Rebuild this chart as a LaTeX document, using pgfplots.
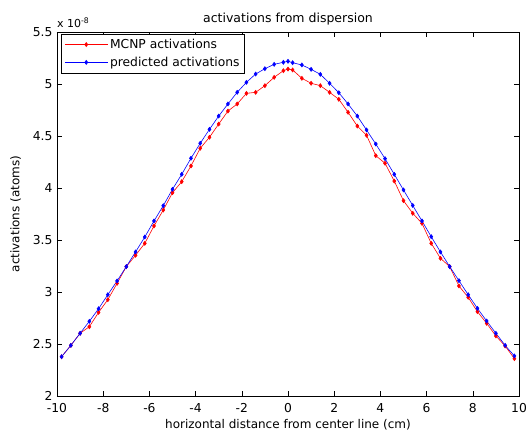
\documentclass[border=0pt]{standalone}
\usepackage{pgfplots}
\pgfplotsset{compat=1.18}
\usepackage{fontspec}
\setmainfont{DejaVu Sans}
\begin{document}
\begin{tikzpicture}
\begin{axis}[
  scale only axis,
  width=462pt, height=364pt,
  xmin=-10, xmax=10, ymin=2, ymax=5.5,
  xtick={-10,-8,...,10},
  ytick={2,2.5,...,5.5},
  yticklabels={2,2.5,3,3.5,4,4.5,5,5.5},
  /pgf/number format/assume math mode=true,
  tick align=inside,
  major tick length=5pt,
  axis line style={line width=0.8pt},
  every tick/.style={black, line width=0.6pt},
  tick label style={font=\fontsize{12.3}{14}\selectfont},
  xticklabel style={yshift=-4pt},
  yticklabel style={xshift=-1pt},
  xlabel={horizontal distance from center line (cm)},
  ylabel={activations (atoms)},
  label style={font=\fontsize{12}{14}\selectfont},
  xlabel style={yshift=0pt},
  ylabel style={yshift=5pt},
  title={activations from dispersion},
  title style={font=\fontsize{12.5}{14}\selectfont, yshift=-3pt},
  legend style={at={(0.009,0.995)}, anchor=north west, draw=black, line width=0.6pt,
    font=\fontsize{12.3}{14}\selectfont, inner xsep=3pt, inner ysep=3pt, row sep=3pt},
  legend cell align=left,
  legend image code/.code={\draw[#1] (0pt,0pt) -- (43pt,0pt); \draw[#1, only marks] plot coordinates {(21.5pt,0pt)};},
]
\addplot[red, line width=0.6pt, mark=diamond*, mark size=2pt, mark options={solid}] coordinates {
(-9.8,2.378) (-9.4,2.487) (-9.0,2.603) (-8.6,2.666) (-8.2,2.804) (-7.8,2.926) (-7.4,3.083) (-7.0,3.244)
(-6.6,3.353) (-6.2,3.468) (-5.8,3.635) (-5.4,3.788) (-5.0,3.955) (-4.6,4.061) (-4.2,4.212) (-3.8,4.382)
(-3.4,4.488) (-3.0,4.615) (-2.6,4.740) (-2.2,4.808) (-1.8,4.910) (-1.4,4.920) (-1.0,4.984) (-0.6,5.064)
(-0.2,5.128) (0,5.144) (0.2,5.135) (0.6,5.055) (1.0,5.007) (1.4,4.984) (1.8,4.920) (2.2,4.853)
(2.6,4.728) (3.0,4.596) (3.4,4.507) (3.8,4.311) (4.2,4.238) (4.6,4.067) (5.0,3.878) (5.4,3.757)
(5.8,3.660) (6.2,3.468) (6.6,3.324) (7.0,3.244) (7.4,3.058) (7.8,2.949) (8.2,2.811) (8.6,2.699)
(9.0,2.577) (9.4,2.481) (9.8,2.359)
};
\addlegendentry{MCNP activations}
\addplot[blue, line width=0.6pt, mark=diamond*, mark size=2pt, mark options={solid}] coordinates {
(-9.8,2.378) (-9.4,2.487) (-9.0,2.603) (-8.6,2.718) (-8.2,2.839) (-7.8,2.974) (-7.4,3.106) (-7.0,3.244)
(-6.6,3.385) (-6.2,3.529) (-5.8,3.683) (-5.4,3.830) (-5.0,3.988) (-4.6,4.132) (-4.2,4.286) (-3.8,4.430)
(-3.4,4.564) (-3.0,4.692) (-2.6,4.808) (-2.2,4.920) (-1.8,5.016) (-1.4,5.096) (-1.0,5.147) (-0.6,5.189)
(-0.2,5.209) (0,5.218) (0.2,5.205) (0.6,5.183) (1.0,5.141) (1.4,5.093) (1.8,5.007) (2.2,4.916)
(2.6,4.808) (3.0,4.692) (3.4,4.558) (3.8,4.423) (4.2,4.282) (4.6,4.132) (5.0,3.981) (5.4,3.832)
(5.8,3.683) (6.2,3.532) (6.6,3.385) (7.0,3.244) (7.4,3.109) (7.8,2.974) (8.2,2.843) (8.6,2.721)
(9.0,2.603) (9.4,2.487) (9.8,2.385)
};
\addlegendentry{predicted activations}
\end{axis}
\node[anchor=south west, font=\fontsize{11}{12}\selectfont, inner sep=0pt] at ([xshift=0pt,yshift=4pt]current axis.north west) {x 10\textsuperscript{-8}};
\pgfresetboundingbox
\path ([xshift=-57pt,yshift=-41pt]current axis.south west) rectangle ([xshift=8pt,yshift=32pt]current axis.north east);
\end{tikzpicture}
\end{document}
